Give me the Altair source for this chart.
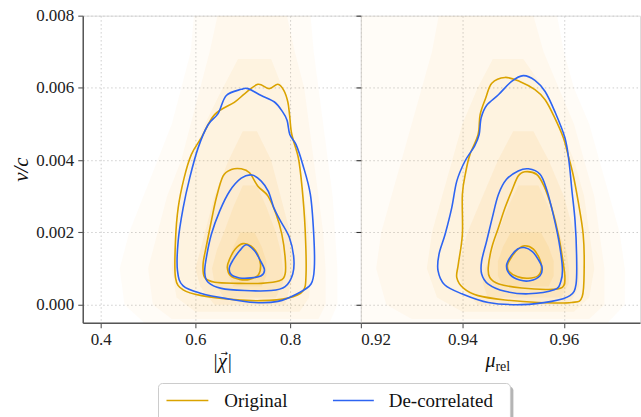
import altair as alt
import pandas as pd

ORANGE = "#DAA300"
BLUE = "#2D64F2"
HAZE = "#F5A000"
FONT = "Liberation Serif"

SERIES = ["Original", "De-correlated"]

# ---------------- left panel: |chi| vs v/c ----------------
L_ORIG_OUTER_X = [0.705, 0.732, 0.7558, 0.7741, 0.7867, 0.7952, 0.7990, 0.8036, 0.8175, 0.8253, 0.8316, 0.8337, 0.8267,
                  0.7951, 0.739, 0.6827, 0.6126, 0.5741, 0.5579, 0.5579, 0.5636, 0.5762, 0.5916, 0.6126, 0.6406, 0.6821]
L_ORIG_OUTER_Y = [0.00585, 0.00610, 0.00598, 0.00610, 0.00593, 0.00561, 0.00524, 0.00471, 0.00406, 0.00324, 0.00213,
                  0.00085, 0.00037, 0.00018, 0.00011, 0.00014, 0.00025, 0.00041, 0.00075, 0.00177, 0.00268, 0.00351,
                  0.00416, 0.00462, 0.00526, 0.00560]
L_DEC_OUTER_X = [0.6653, 0.6968, 0.711, 0.739, 0.767, 0.7846, 0.7937, 0.7994, 0.8126, 0.8267, 0.8428, 0.8499, 0.8512,
                 0.8442, 0.8162, 0.7741, 0.7248, 0.6688, 0.6126, 0.5741, 0.5621, 0.5636, 0.5741, 0.588, 0.6057, 0.6267,
                 0.6478]
L_DEC_OUTER_Y = [0.00579, 0.00596, 0.00598, 0.00579, 0.00561, 0.00533, 0.00510, 0.00471, 0.00443, 0.00388, 0.00305,
                 0.00195, 0.00103, 0.00057, 0.00031, 0.00009, 0.00006, 0.00016, 0.00031, 0.00052, 0.00094, 0.00177,
                 0.00268, 0.00351, 0.00434, 0.00498, 0.00529]
L_ORIG_MID_X = [0.6968, 0.7143, 0.732, 0.753, 0.7705, 0.7825, 0.7895, 0.7895, 0.7775, 0.7389, 0.6899, 0.6406, 0.6196,
                0.6162, 0.6232, 0.6337, 0.6442, 0.6583, 0.6758]
L_ORIG_MID_Y = [0.00376, 0.00365, 0.00328, 0.00301, 0.00250, 0.00195, 0.00131, 0.00085, 0.00066, 0.00059, 0.00059,
                0.00062, 0.00075, 0.00112, 0.00163, 0.00232, 0.00296, 0.00356, 0.00374]
L_DEC_MID_X = [0.7193, 0.739, 0.7543, 0.7657, 0.7796, 0.7985, 0.8077, 0.8056, 0.7895, 0.76, 0.7038, 0.6547, 0.6267,
               0.6196, 0.6232, 0.6337, 0.6512, 0.6722, 0.6968]
L_DEC_MID_Y = [0.00359, 0.00342, 0.00313, 0.00268, 0.00232, 0.00186, 0.00131, 0.00085, 0.00050, 0.00039, 0.00039,
               0.00045, 0.00062, 0.00089, 0.00131, 0.00195, 0.00259, 0.00314, 0.00350]
L_ORIG_IN_X = [0.7004, 0.7179, 0.7305, 0.7375, 0.7333, 0.7143, 0.6933, 0.6743, 0.6674, 0.6722, 0.6842]
L_ORIG_IN_Y = [0.00169, 0.00162, 0.00142, 0.00112, 0.00083, 0.00070, 0.00070, 0.00080, 0.00103, 0.00126, 0.00154]
L_DEC_IN_X = [0.7074, 0.7248, 0.7375, 0.7459, 0.739, 0.7179, 0.6933, 0.6758, 0.6716, 0.6793, 0.6933]
L_DEC_IN_Y = [0.00166, 0.00149, 0.00121, 0.00096, 0.00080, 0.00074, 0.00074, 0.00083, 0.00101, 0.00123, 0.00149]

# ---------------- right panel: mu_rel vs v/c ----------------
R_ORIG_OUTER_X = [0.9484, 0.9513, 0.9543, 0.9563, 0.9582, 0.9599, 0.9608, 0.9618, 0.9628, 0.9638, 0.9640, 0.9636,
                  0.9615, 0.9549, 0.9484, 0.9431, 0.9402, 0.9389, 0.9392, 0.9400, 0.9400, 0.9407, 0.9415, 0.9431,
                  0.9435, 0.9446, 0.9458]
R_ORIG_OUTER_Y = [0.00629, 0.00618, 0.00595, 0.00567, 0.00517, 0.00462, 0.00416, 0.00361, 0.00287, 0.00195, 0.00103,
                  0.00022, 0.00006, 0.00006, 0.00013, 0.00025, 0.00046, 0.00075, 0.00112, 0.00195, 0.00305, 0.00370,
                  0.00416, 0.00471, 0.00526, 0.00572, 0.00613]
R_DEC_OUTER_X = [0.952, 0.9543, 0.9563, 0.9582, 0.9602, 0.961, 0.9616, 0.9622, 0.9625, 0.9624, 0.9612, 0.9576, 0.9517,
                 0.9451, 0.9399, 0.9365, 0.9352, 0.9354, 0.9366, 0.9379, 0.9389, 0.9405, 0.9424, 0.9433, 0.9437,
                 0.9448, 0.9471, 0.9497]
R_DEC_OUTER_Y = [0.00634, 0.00621, 0.00590, 0.00535, 0.00462, 0.00397, 0.00314, 0.00232, 0.00140, 0.00057, 0.00025,
                 0.00009, 0.00000, 0.00006, 0.00030, 0.00055, 0.00094, 0.00140, 0.00195, 0.00268, 0.00342, 0.00397,
                 0.00439, 0.00471, 0.00517, 0.00552, 0.00581, 0.00618]
R_ORIG_MID_X = [0.9523, 0.9546, 0.9561, 0.9576, 0.9589, 0.9597, 0.9602, 0.9597, 0.9569, 0.9517, 0.9472, 0.9454,
                0.9451, 0.9458, 0.9471, 0.9484, 0.9497, 0.951]
R_ORIG_MID_Y = [0.00368, 0.00361, 0.00328, 0.00268, 0.00195, 0.00131, 0.00075, 0.00048, 0.00042, 0.00046, 0.00057,
                0.00075, 0.00103, 0.00158, 0.00213, 0.00268, 0.00314, 0.00356]
R_DEC_MID_X = [0.953, 0.9553, 0.9566, 0.9579, 0.959, 0.9597, 0.9594, 0.9581, 0.953, 0.9484, 0.9451, 0.9438, 0.9438,
               0.9448, 0.9459, 0.9471, 0.9487, 0.951]
R_DEC_MID_Y = [0.00376, 0.00361, 0.00319, 0.00250, 0.00177, 0.00103, 0.00064, 0.00041, 0.00030, 0.00037, 0.00057,
               0.00085, 0.00121, 0.00177, 0.00241, 0.00305, 0.00347, 0.00370]
R_ORIG_IN_X = [0.9523, 0.954, 0.9551, 0.9556, 0.9549, 0.953, 0.9509, 0.9492, 0.9489, 0.9497, 0.951]
R_ORIG_IN_Y = [0.00163, 0.00154, 0.00130, 0.00103, 0.00080, 0.00073, 0.00077, 0.00092, 0.00110, 0.00132, 0.00154]
R_DEC_IN_X = [0.9522, 0.9538, 0.9549, 0.9557, 0.9553, 0.9533, 0.9513, 0.9494, 0.9487, 0.9496, 0.9509]
R_DEC_IN_Y = [0.00158, 0.00147, 0.00126, 0.00103, 0.00080, 0.00066, 0.00068, 0.00083, 0.00108, 0.00135, 0.00154]

# ---------------- sample-density haze (nested levels: y, left x, right x, opacity) ----------------
HAZE_OPACITY = [0.03, 0.04, 0.055, 0.07, 0.08, 0.085]
LH_Y = [
    [-0.0006, 0.0, 0.001, 0.002, 0.003, 0.004, 0.005, 0.006, 0.007, 0.0085],
    [-0.0004, 0.0, 0.001, 0.002, 0.003, 0.004, 0.005, 0.006, 0.007, 0.0082],
    [-0.0002, 0.0002, 0.001, 0.002, 0.003, 0.004, 0.005, 0.0058, 0.0068],
    [0.0, 0.0005, 0.001, 0.002, 0.003, 0.004, 0.0048],
    [0.0002, 0.0006, 0.001, 0.0015, 0.002, 0.0027, 0.0033],
    [0.0005, 0.0008, 0.0012, 0.0016, 0.0020],
]
LH_XL = [
    [0.50, 0.45, 0.44, 0.46, 0.49, 0.52, 0.55, 0.57, 0.59, 0.60],
    [0.55, 0.51, 0.50, 0.52, 0.54, 0.57, 0.59, 0.61, 0.63, 0.65],
    [0.60, 0.56, 0.55, 0.56, 0.57, 0.59, 0.62, 0.65, 0.69],
    [0.64, 0.61, 0.60, 0.62, 0.64, 0.67, 0.70],
    [0.66, 0.64, 0.635, 0.645, 0.66, 0.68, 0.70],
    [0.68, 0.67, 0.67, 0.68, 0.695],
]
LH_XR = [
    [0.88, 0.90, 0.90, 0.895, 0.89, 0.88, 0.87, 0.86, 0.85, 0.84],
    [0.86, 0.875, 0.875, 0.87, 0.86, 0.85, 0.84, 0.83, 0.81, 0.79],
    [0.82, 0.84, 0.845, 0.84, 0.83, 0.82, 0.80, 0.79, 0.76],
    [0.79, 0.80, 0.81, 0.80, 0.78, 0.76, 0.73],
    [0.77, 0.785, 0.785, 0.78, 0.77, 0.75, 0.73],
    [0.74, 0.75, 0.75, 0.74, 0.725],
]
RH_Y = [
    [-0.0006, 0.0, 0.001, 0.002, 0.003, 0.004, 0.005, 0.006, 0.007, 0.0085],
    [-0.0004, 0.0, 0.001, 0.002, 0.003, 0.004, 0.005, 0.006, 0.007, 0.0085],
    [-0.0002, 0.0002, 0.001, 0.002, 0.003, 0.004, 0.005, 0.006, 0.0068],
    [0.0, 0.0005, 0.001, 0.002, 0.003, 0.004, 0.0048],
    [0.0002, 0.0006, 0.001, 0.0015, 0.002, 0.0027, 0.0033],
    [0.0005, 0.0008, 0.0012, 0.0016, 0.0020],
]
RH_XL = [
    [0.918, 0.918, 0.918, 0.918, 0.918, 0.918, 0.918, 0.918, 0.918, 0.918],
    [0.930, 0.925, 0.923, 0.924, 0.926, 0.928, 0.930, 0.932, 0.934, 0.936],
    [0.940, 0.935, 0.933, 0.934, 0.936, 0.938, 0.940, 0.943, 0.946],
    [0.943, 0.940, 0.939, 0.941, 0.944, 0.947, 0.950],
    [0.945, 0.944, 0.9445, 0.946, 0.947, 0.949, 0.951],
    [0.948, 0.947, 0.947, 0.948, 0.9495],
]
RH_XR = [
    [0.968, 0.972, 0.972, 0.971, 0.969, 0.967, 0.965, 0.962, 0.960, 0.958],
    [0.965, 0.968, 0.968, 0.967, 0.966, 0.964, 0.962, 0.959, 0.956, 0.953],
    [0.962, 0.965, 0.966, 0.965, 0.964, 0.962, 0.959, 0.956, 0.952],
    [0.961, 0.963, 0.963, 0.962, 0.960, 0.957, 0.954],
    [0.9595, 0.961, 0.961, 0.9605, 0.959, 0.957, 0.955],
    [0.957, 0.958, 0.958, 0.957, 0.9555],
]

X_LEFT_TICKS = [0.4, 0.6, 0.8]
X_RIGHT_TICKS = [0.92, 0.94, 0.96]
Y_TICKS = [0.0, 0.002, 0.004, 0.006, 0.008]


def contour_df(items):
    rows = []
    for cid, (series, xs, ys) in enumerate(items):
        for i, (x, y) in enumerate(zip(xs, ys)):
            rows.append({"cid": cid, "series": series, "idx": i, "x": x, "y": y})
    return pd.DataFrame(rows)


def haze_df(ys_l, xl_l, xr_l):
    rows = []
    for lev, (ys, xls, xrs) in enumerate(zip(ys_l, xl_l, xr_l)):
        for y, a, b in zip(ys, xls, xrs):
            rows.append({"level": lev, "op": HAZE_OPACITY[lev], "y": y, "xl": a, "xr": b})
    return pd.DataFrame(rows)


left_c = contour_df([
    ("Original", L_ORIG_OUTER_X, L_ORIG_OUTER_Y), ("De-correlated", L_DEC_OUTER_X, L_DEC_OUTER_Y),
    ("Original", L_ORIG_MID_X, L_ORIG_MID_Y), ("De-correlated", L_DEC_MID_X, L_DEC_MID_Y),
    ("Original", L_ORIG_IN_X, L_ORIG_IN_Y), ("De-correlated", L_DEC_IN_X, L_DEC_IN_Y),
])
right_c = contour_df([
    ("Original", R_ORIG_OUTER_X, R_ORIG_OUTER_Y), ("De-correlated", R_DEC_OUTER_X, R_DEC_OUTER_Y),
    ("Original", R_ORIG_MID_X, R_ORIG_MID_Y), ("De-correlated", R_DEC_MID_X, R_DEC_MID_Y),
    ("Original", R_ORIG_IN_X, R_ORIG_IN_Y), ("De-correlated", R_DEC_IN_X, R_DEC_IN_Y),
])
left_h = haze_df(LH_Y, LH_XL, LH_XR)
right_h = haze_df(RH_Y, RH_XL, RH_XR)

y_scale = alt.Scale(domain=[-0.0005, 0.008], nice=False, zero=False)
xl_scale = alt.Scale(domain=[0.362, 0.9495], nice=False, zero=False)
xr_scale = alt.Scale(domain=[0.92, 0.975], nice=False, zero=False)
color_scale = alt.Scale(domain=SERIES, range=[ORANGE, BLUE])

GRID = dict(grid=True, gridColor="#c8c8c8", gridDash=[1.5, 2.5], gridWidth=0.9)
TICKS = dict(tickColor="#555555", tickSize=5, tickWidth=1.1, labelFont=FONT, labelFontSize=17,
             labelColor="#222222", titleFont=FONT, titleColor="#111111", titleFontWeight="normal")

W_L, W_R, H = 279, 280, 308
ONE = pd.DataFrame({"a": [0]})


def label(text, x, y, size, style="normal", align="center", baseline="alphabetic", font=FONT):
    return alt.Chart(ONE).mark_text(
        font=font, fontSize=size, fontStyle=style, color="#111111", align=align, baseline=baseline
    ).encode(x=alt.value(x), y=alt.value(y), text=alt.value(text))


# ---------- left panel ----------
lh = alt.Chart(left_h).mark_area(orient="horizontal", color=HAZE, clip=True).encode(
    y=alt.Y("y:Q", scale=y_scale,
            axis=alt.Axis(values=Y_TICKS, format=".3f", title="v/c", titleFontStyle="italic",
                          titleFontSize=21, titlePadding=4, domainColor="#555555", domainWidth=1.5,
                          labelPadding=4, **GRID, **TICKS)),
    x=alt.X("xl:Q", scale=xl_scale,
            axis=alt.Axis(values=X_LEFT_TICKS, format=".1f", title=None, domainColor="#555555",
                          domainWidth=1.5, labelPadding=4, **GRID, **TICKS)),
    x2="xr:Q",
    opacity=alt.Opacity("op:Q", scale=None),
    detail="level:N",
)
lc = alt.Chart(left_c).mark_line(strokeWidth=1.6, interpolate="cardinal-closed", clip=True).encode(
    x=alt.X("x:Q", scale=xl_scale),
    y=alt.Y("y:Q", scale=y_scale),
    color=alt.Color("series:N", scale=color_scale, legend=None),
    detail="cid:N",
    order="idx:Q",
)
chi = label("|χ|", 140, 353, 20, style="italic")
arrow = label("→", 142, 338, 9, baseline="middle", font="DejaVu Sans")

# legend (drawn as marks below the panels)
leg_shadow = alt.Chart(ONE).mark_rect(color="#b5b5b5", cornerRadius=4).encode(
    x=alt.value(79), x2=alt.value(432), y=alt.value(372), y2=alt.value(440))
leg_box = alt.Chart(ONE).mark_rect(fill="white", stroke="#cccccc", strokeWidth=1, cornerRadius=4).encode(
    x=alt.value(76), x2=alt.value(429), y=alt.value(369), y2=alt.value(437))
leg_l1 = alt.Chart(ONE).mark_rule(strokeWidth=1.6, color=ORANGE).encode(
    x=alt.value(84), x2=alt.value(126), y=alt.value(386))
leg_l2 = alt.Chart(ONE).mark_rule(strokeWidth=1.6, color=BLUE).encode(
    x=alt.value(251), x2=alt.value(292), y=alt.value(386))
leg_t1 = label(SERIES[0], 142, 387, 19, align="left", baseline="middle")
leg_t2 = label(SERIES[1], 307, 387, 19, align="left", baseline="middle")

left = alt.layer(lh, lc, chi, arrow, leg_shadow, leg_box, leg_l1, leg_l2, leg_t1, leg_t2).properties(
    width=W_L, height=H)

# ---------- right panel ----------
rh = alt.Chart(right_h).mark_area(orient="horizontal", color=HAZE, clip=True).encode(
    y=alt.Y("y:Q", scale=y_scale,
            axis=alt.Axis(values=Y_TICKS, labels=False, title=None, domain=False, **GRID,
                          tickColor="#333333", tickSize=5, tickWidth=1.1)),
    x=alt.X("xl:Q", scale=xr_scale,
            axis=alt.Axis(values=X_RIGHT_TICKS, format=".2f", title=None, domainColor="#555555",
                          domainWidth=1.5, labelPadding=4, **GRID, **TICKS)),
    x2="xr:Q",
    opacity=alt.Opacity("op:Q", scale=None),
    detail="level:N",
)
rc = alt.Chart(right_c).mark_line(strokeWidth=1.6, interpolate="cardinal-closed", clip=True).encode(
    x=alt.X("x:Q", scale=xr_scale),
    y=alt.Y("y:Q", scale=y_scale),
    color=alt.Color("series:N", scale=color_scale, legend=None),
    detail="cid:N",
    order="idx:Q",
)
mu = label("μ", 130, 352, 20, style="italic")
rel = label("rel", 135, 356, 14, align="left")
right = alt.layer(rh, rc, mu, rel).properties(width=W_R, height=H)

chart = alt.hconcat(left, right, spacing=0, bounds="flush").properties(
    padding={"left": 10, "top": 5, "right": 0, "bottom": 0}
).configure_view(stroke="black", strokeWidth=1.2).configure_axis(
    labelFont=FONT, titleFont=FONT
).configure(background="white", font=FONT)

chart.save("out.html", embed_options={"renderer": "svg", "actions": False})
